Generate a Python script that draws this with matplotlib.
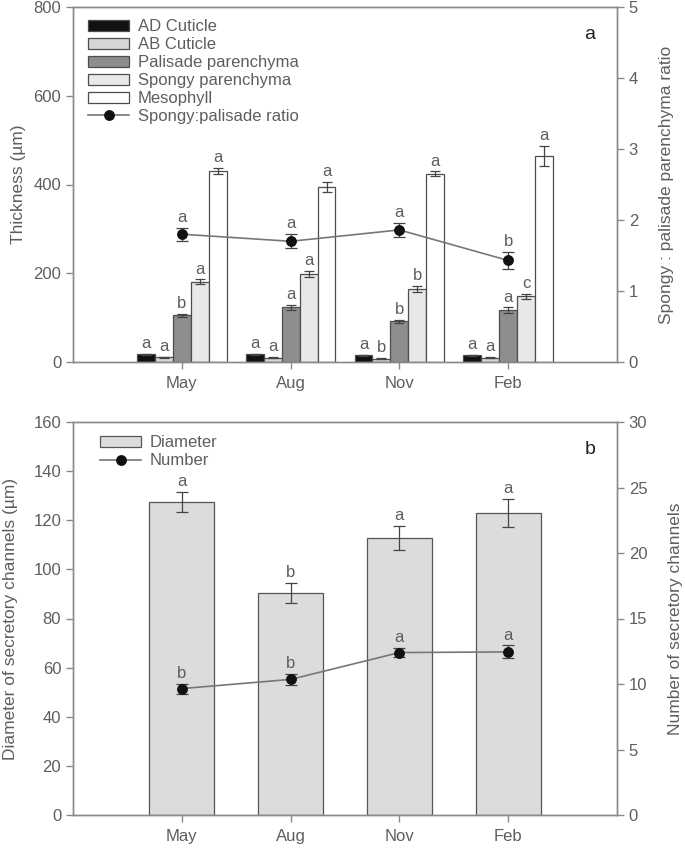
import matplotlib
matplotlib.use("Agg")
import matplotlib.pyplot as plt
import numpy as np
from matplotlib.patches import Patch
from matplotlib.lines import Line2D

plt.rcParams['font.family'] = ['Liberation Sans', 'DejaVu Sans']

# ---------------- data ----------------
months = ["May", "Aug", "Nov", "Feb"]

ad_cuticle = [17, 17, 15, 15]
ad_cuticle_err = [1.5, 1.5, 1.5, 1.5]
ab_cuticle = [11, 10, 7.5, 10]
ab_cuticle_err = [1, 1, 1, 1]
palisade = [105, 123, 92, 117]
palisade_err = [4, 6, 3, 6]
spongy = [181, 198, 165, 148]
spongy_err = [5, 7, 7, 5]
mesophyll = [431, 395, 424, 464]
mesophyll_err = [6.5, 11, 5.5, 23]
ratio = [1.80, 1.70, 1.86, 1.43]
ratio_err = [0.09, 0.10, 0.10, 0.12]

ad_letters = ["a", "a", "a", "a"]
ab_letters = ["a", "a", "b", "a"]
pal_letters = ["b", "a", "b", "a"]
spo_letters = ["a", "a", "b", "c"]
mes_letters = ["a", "a", "a", "a"]
ratio_letters = ["a", "a", "a", "b"]

diameter = [127.4, 90.4, 112.8, 122.9]
diameter_err = [4.1, 4.2, 4.9, 5.8]
number = [9.65, 10.35, 12.4, 12.45]
number_err = [0.38, 0.45, 0.36, 0.5]
diam_letters = ["a", "b", "a", "a"]
num_letters = ["b", "b", "a", "a"]

# ---------------- style ----------------
W, H = 685, 851
DPI = 100
grey_txt = "#5e5e5e"
spine_c = "#8a8a8a"
edge_c = "#4d4d4d"
FS = 12
LFS = 12.5

fig = plt.figure(figsize=(W / DPI, H / DPI), dpi=DPI)

def frac(l, t, r, b):
    return [l / W, 1 - b / H, (r - l) / W, (b - t) / H]

def style(ax):
    for s in ax.spines.values():
        s.set_color(spine_c)
        s.set_linewidth(1.0)
    ax.tick_params(direction="out", length=5, width=1, color=spine_c,
                   labelcolor=grey_txt, labelsize=FS)

def letter(ax, x, y, s):
    ax.annotate(s, (x, y), xytext=(0, 2), textcoords="offset points",
                ha="center", va="bottom", fontsize=FS, color=grey_txt)

x = np.arange(1, len(months) + 1)
MS = 6.8

# ---------------- panel a ----------------
ax1 = fig.add_axes(frac(73, 7, 617, 362))
ax1r = ax1.twinx()
style(ax1); style(ax1r)

bw = 0.165
series = [
    (ad_cuticle, ad_cuticle_err, "#111111", "AD Cuticle", ad_letters),
    (ab_cuticle, ab_cuticle_err, "#d6d6d6", "AB Cuticle", ab_letters),
    (palisade, palisade_err, "#8e8e8e", "Palisade parenchyma", pal_letters),
    (spongy, spongy_err, "#e8e8e8", "Spongy parenchyma", spo_letters),
    (mesophyll, mesophyll_err, "#ffffff", "Mesophyll", mes_letters),
]
handles = []
for i, (vals, errs, col, lab, lets) in enumerate(series):
    xp = x + (i - 2) * bw
    ax1.bar(xp, vals, bw, color=col, edgecolor=edge_c, linewidth=0.9)
    ax1.errorbar(xp, vals, yerr=errs, fmt="none", ecolor="#444444",
                 elinewidth=0.9, capsize=3.5, capthick=0.9)
    for xi, v, e, s in zip(xp, vals, errs, lets):
        letter(ax1, xi, v + e, s)
    handles.append(Patch(facecolor=col, edgecolor=edge_c, linewidth=0.9, label=lab))

ax1r.errorbar(x, ratio, yerr=ratio_err, fmt="none", ecolor="#444444",
              elinewidth=0.9, capsize=4, capthick=0.9)
ax1r.plot(x, ratio, color="#777777", lw=1.2, marker="o", ms=MS,
          mfc="#111111", mec="#111111")
for xi, v, e, s in zip(x, ratio, ratio_err, ratio_letters):
    letter(ax1r, xi, v + e, s)
handles.append(Line2D([], [], color="#777777", lw=1.2, marker="o", ms=MS,
                      mfc="#111111", mec="#111111", label="Spongy:palisade ratio"))

ax1.set_xlim(0, 5)
ax1.set_ylim(0, 800)
ax1.set_yticks([0, 200, 400, 600, 800])
ax1r.set_ylim(0, 5)
ax1r.set_yticks([0, 1, 2, 3, 4, 5])
ax1.set_xticks(x)
ax1.set_xticklabels(months)
ax1.tick_params(axis="x", pad=5)
ax1.set_ylabel("Thickness (µm)", fontsize=LFS, color=grey_txt)
ax1.yaxis.set_label_coords(-0.086, 0.5)
ax1r.set_ylabel("Spongy : palisade parenchyma ratio", fontsize=LFS, color=grey_txt)
ax1r.yaxis.set_label_coords(1.077, 0.5)
ax1r.legend(handles=handles, loc="upper left", bbox_to_anchor=(0.015, 0.985),
            frameon=False, fontsize=FS, handlelength=2.5, handleheight=0.62,
            handletextpad=0.5, labelspacing=0.18, borderaxespad=0,
            labelcolor=grey_txt)
ax1.text(0.950, 0.922, "a", transform=ax1.transAxes, fontsize=14,
         color="#222222", ha="center", va="center")

# ---------------- panel b ----------------
ax2 = fig.add_axes(frac(73, 422, 617, 815))
ax2r = ax2.twinx()
style(ax2); style(ax2r)

ax2.bar(x, diameter, 0.6, color="#dcdcdc", edgecolor="#555555", linewidth=0.9)
ax2.errorbar(x, diameter, yerr=diameter_err, fmt="none", ecolor="#444444",
             elinewidth=0.9, capsize=4.5, capthick=0.9)
for xi, v, e, s in zip(x, diameter, diameter_err, diam_letters):
    letter(ax2, xi, v + e, s)

ax2r.errorbar(x, number, yerr=number_err, fmt="none", ecolor="#444444",
              elinewidth=0.9, capsize=4.5, capthick=0.9)
ax2r.plot(x, number, color="#777777", lw=1.2, marker="o", ms=MS,
          mfc="#111111", mec="#111111")
for xi, v, e, s in zip(x, number, number_err, num_letters):
    letter(ax2r, xi, v + e, s)

ax2.set_xlim(0, 5)
ax2.set_ylim(0, 160)
ax2.set_yticks(range(0, 161, 20))
ax2r.set_ylim(0, 30)
ax2r.set_yticks(range(0, 31, 5))
ax2.set_xticks(x)
ax2.set_xticklabels(months)
ax2.tick_params(axis="x", pad=5)
ax2.set_ylabel("Diameter of secretory channels (µm)", fontsize=LFS, color=grey_txt)
ax2.yaxis.set_label_coords(-0.101, 0.5)
ax2r.set_ylabel("Number of secretory channels", fontsize=LFS, color=grey_txt)
ax2r.yaxis.set_label_coords(1.094, 0.5)
h2 = [Patch(facecolor="#dcdcdc", edgecolor="#555555", linewidth=0.9, label="Diameter"),
      Line2D([], [], color="#777777", lw=1.2, marker="o", ms=MS,
             mfc="#111111", mec="#111111", label="Number")]
ax2r.legend(handles=h2, loc="upper left", bbox_to_anchor=(0.037, 0.983),
            frameon=False, fontsize=FS, handlelength=2.5, handleheight=0.62,
            handletextpad=0.5, labelspacing=0.18, borderaxespad=0,
            labelcolor=grey_txt)
ax2.text(0.950, 0.931, "b", transform=ax2.transAxes, fontsize=14,
         color="#222222", ha="center", va="center")

fig.savefig("out.png", dpi=DPI)
